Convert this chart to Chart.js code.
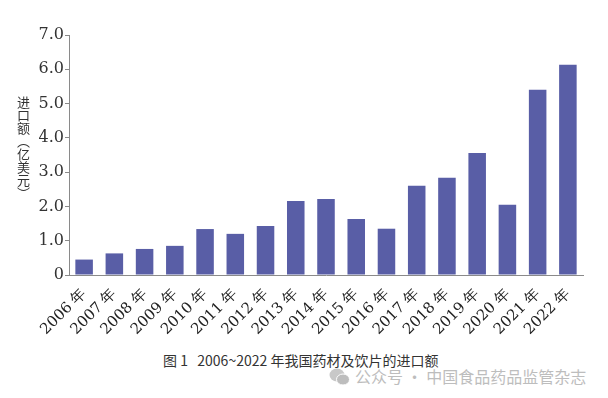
<!DOCTYPE html>
<html>
<head>
<meta charset="utf-8">
<script src="https://cdn.jsdelivr.net/npm/chart.js@4.4.0/dist/chart.umd.min.js"></script>
<style>
  body { margin: 0; width: 608px; height: 398px; background: #fff; position: relative; overflow: hidden; }
  #box { position: absolute; left: 0; top: 0; width: 608px; height: 340px; }
  #ytitle { position: absolute; left: 16px; top: 96px; writing-mode: vertical-rl; font-family: "Noto Sans CJK SC", sans-serif; font-size: 13px; line-height: 14px; color: #333; }
  #caption { position: absolute; left: 163px; top: 350px; font-family: "Noto Sans CJK SC", sans-serif; font-size: 14px; color: #333; white-space: pre; }
  #mark { position: absolute; left: 329px; top: 364px; font-family: "Noto Sans CJK SC", sans-serif; font-size: 16px; color: #bdbdbd; white-space: pre; }
  #mark svg { vertical-align: -3px; margin-right: 5px; }
</style>
</head>
<body>
<div id="box"><canvas id="c"></canvas></div>
<div id="ytitle">进口额（亿美元）</div>
<div id="caption">图 1   2006~2022 年我国药材及饮片的进口额</div>
<div id="mark"><svg width="21" height="18" viewBox="0 0 21 18"><ellipse cx="8" cy="7" rx="7.5" ry="6.5" fill="#c8c8c8"/><ellipse cx="14" cy="11.5" rx="6.5" ry="5.5" fill="#bdbdbd" stroke="#fff" stroke-width="1"/></svg>公众号 · 中国食品药品监管杂志</div>
<script>
const years = ["2006 年", "2007 年", "2008 年", "2009 年", "2010 年", "2011 年", "2012 年", "2013 年", "2014 年",
  "2015 年", "2016 年", "2017 年", "2018 年", "2019 年", "2020 年", "2021 年", "2022 年"];
const importValue = [0.45, 0.63, 0.76, 0.85, 1.34, 1.20, 1.43, 2.16, 2.22, 1.63, 1.35, 2.60, 2.84, 3.56, 2.05, 5.40, 6.13];
const yTicks = [0, 1, 2, 3, 4, 5, 6, 7];

const serif = "'DejaVu Serif', 'Liberation Serif', serif";

new Chart(document.getElementById("c"), {
  type: "bar",
  data: {
    labels: years,
    datasets: [{
      data: importValue,
      backgroundColor: "#595ea6",
      categoryPercentage: 1,
      barPercentage: 0.58
    }]
  },
  options: {
    responsive: true,
    maintainAspectRatio: false,
    animation: false,
    layout: { padding: { top: 35, right: 25, left: 0, bottom: 0 } },
    plugins: { legend: { display: false }, tooltip: { enabled: false } },
    scales: {
      x: {
        grid: { display: false },
        border: { display: true, color: "#8a8a8a", width: 1 },
        ticks: { color: "#222", font: { family: serif, size: 15 }, minRotation: 45, maxRotation: 45, padding: 2 },
        afterFit: (s) => { s.height = 65; }
      },
      y: {
        min: 0,
        max: 7,
        afterBuildTicks: (s) => { s.ticks = yTicks.map(v => ({ value: v })); },
        grid: { drawOnChartArea: false, drawTicks: true, tickLength: 4, color: "#8a8a8a" },
        border: { display: true, color: "#8a8a8a", width: 1 },
        ticks: {
          color: "#333",
          font: { family: serif, size: 16 },
          padding: 1,
          callback: (v) => v === 0 ? "0" : v.toFixed(1)
        },
        afterFit: (s) => { s.width = 69; }
      }
    }
  }
});
</script>
</body>
</html>
